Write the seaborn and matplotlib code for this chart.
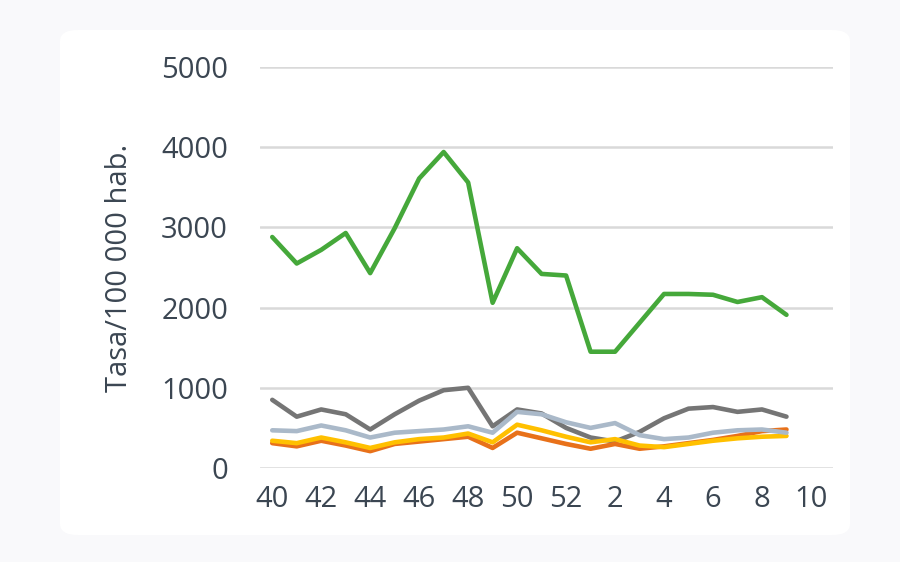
import matplotlib
matplotlib.use("Agg")
import matplotlib.pyplot as plt
from matplotlib.patches import FancyBboxPatch
import seaborn as sns
import pandas as pd
import numpy as np

weeks = ['40', '41', '42', '43', '44', '45', '46', '47', '48', '49', '50', '51', '52',
         '1', '2', '3', '4', '5', '6', '7', '8', '9']
tick_labels = ['40', '42', '44', '46', '48', '50', '52', '2', '4', '6', '8', '10']

green = [2880, 2550, 2720, 2930, 2430, 2990, 3610, 3940, 3560, 2060, 2740, 2420, 2400,
         1450, 1450, 1810, 2170, 2170, 2160, 2070, 2130, 1910]
gray = [850, 640, 730, 670, 480, 670, 840, 970, 1000, 520, 730, 680, 500,
        380, 330, 450, 620, 740, 760, 700, 730, 640]
lightblue = [470, 460, 530, 470, 380, 440, 460, 480, 520, 440, 700, 670, 570,
             500, 560, 410, 360, 380, 440, 470, 480, 440]
yellow = [340, 310, 380, 320, 250, 320, 360, 380, 430, 320, 540, 470, 390,
          320, 360, 280, 260, 300, 340, 370, 390, 400]
orange = [310, 270, 340, 280, 210, 300, 330, 360, 390, 250, 440, 370, 300,
          240, 300, 240, 270, 310, 350, 400, 460, 480]

series = {'gray': gray, 'orange': orange, 'yellow': yellow,
          'lightblue': lightblue, 'green': green}
colors = {'gray': '#757575', 'orange': '#e8711a', 'yellow': '#ffc000',
          'lightblue': '#aab9c9', 'green': '#45a83a'}

sns.set_theme(style="white")
plt.rcParams['font.family'] = ['Open Sans', 'DejaVu Sans']

fig = plt.figure(figsize=(9, 5.62), dpi=100)
fig.patch.set_facecolor('#f9f9fb')
card = FancyBboxPatch((60 / 900, 1 - 535 / 562), 790 / 900, 505 / 562,
                      boxstyle="round,pad=0,rounding_size=0.02",
                      transform=fig.transFigure, facecolor='white',
                      edgecolor='none', zorder=-5)
fig.patches.append(card)

ax = fig.add_axes([260 / 900, 1 - 468 / 562, 573 / 900, 401 / 562])
ax.set_zorder(2)
ax.set_facecolor('none')

x = np.arange(len(weeks))
for name, vals in series.items():
    df = pd.DataFrame({'x': x, 'y': vals})
    sns.lineplot(data=df, x='x', y='y', ax=ax, color=colors[name], linewidth=3.3,
                 solid_capstyle='round', solid_joinstyle='round')

ax.set_ylim(0, 5000)
ax.set_xlim(-0.5, 22.9)
ax.set_yticks([0, 1000, 2000, 3000, 4000, 5000])
ax.set_yticklabels(['0', '1000', '2000', '3000', '4000', '5000'])
ax.set_xticks(np.arange(0, 24, 2))
ax.set_xticklabels(tick_labels)

ax.yaxis.grid(True, color='#d9d9d9', linewidth=1.8)
ax.xaxis.grid(False)
ax.set_axisbelow(True)
for s in ax.spines.values():
    s.set_visible(False)

txt_color = '#3b4652'
ax.tick_params(axis='y', length=0, pad=23, labelsize=21, labelcolor=txt_color)
ax.tick_params(axis='x', length=0, pad=12, labelsize=21, labelcolor=txt_color)
ax.set_xlabel('')
ax.set_ylabel('Tasa/100 000 hab.', fontsize=21, color=txt_color)
ax.yaxis.set_label_coords(-0.22, 0.5)

fig.savefig('out.png', dpi=100, facecolor=fig.get_facecolor())
